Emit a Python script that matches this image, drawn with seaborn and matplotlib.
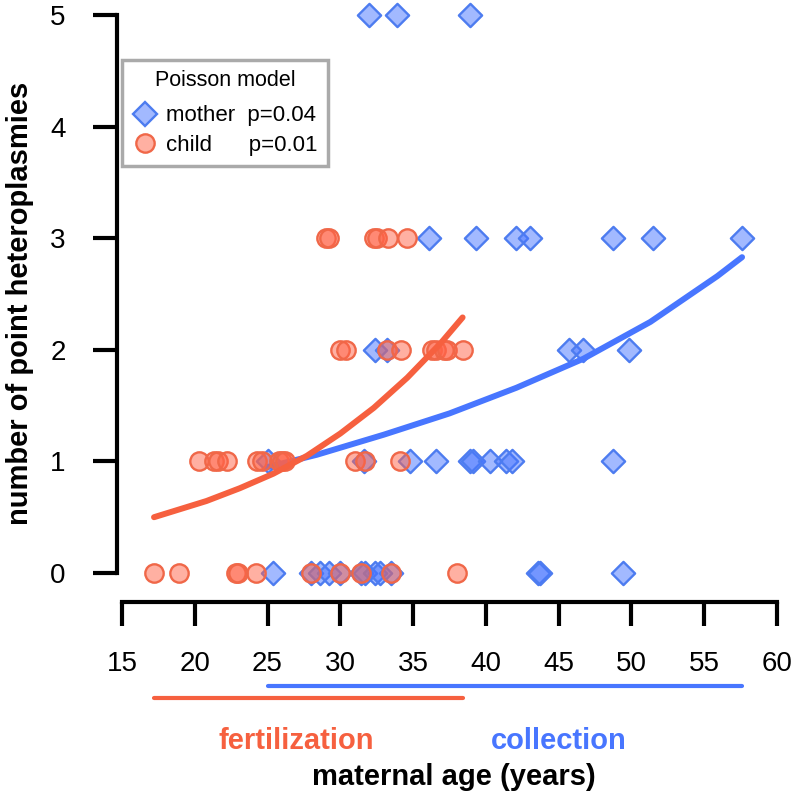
import numpy as np
import pandas as pd
import matplotlib
matplotlib.use("Agg")
import matplotlib.pyplot as plt
import seaborn as sns
from matplotlib.lines import Line2D

# ---------------- data ----------------
mother_age = [25.4, 28.0, 28.6, 29.2, 30.0, 31.4, 31.7, 32.4, 32.7, 33.5, 43.6, 43.7, 49.4,
              25.0, 31.6, 34.8, 36.6, 38.9, 39.1, 40.3, 41.4, 41.8, 48.7,
              32.4, 33.2, 45.7, 46.7, 49.8,
              36.1, 39.3, 42.1, 43.0, 48.7, 51.5, 57.6,
              32.0, 33.9, 38.9]
mother_count = [0] * 13 + [1] * 10 + [2] * 5 + [3] * 7 + [5] * 3

child_age = [17.2, 18.9, 22.8, 23.0, 24.2, 28.0, 30.0, 31.4, 33.5, 38.0,
             20.3, 21.3, 21.6, 22.2, 24.3, 24.6, 25.8, 26.0, 26.2, 31.0, 31.7, 34.1,
             30.0, 30.4, 33.2, 34.2, 36.3, 36.6, 37.1, 37.3, 38.4,
             29.0, 29.2, 32.3, 32.5, 33.3, 34.6]
child_count = [0] * 10 + [1] * 12 + [2] * 9 + [3] * 6

# Poisson-model fitted curves
mother_fit_age = [25.0, 28.4, 33.0, 37.5, 42.1, 46.7, 51.3, 55.9, 57.6]
mother_fit_count = [0.95, 1.06, 1.24, 1.43, 1.66, 1.92, 2.25, 2.66, 2.83]
child_fit_age = [17.2, 20.8, 23.1, 25.4, 27.7, 30.0, 32.3, 34.6, 36.9, 38.4]
child_fit_count = [0.50, 0.645, 0.76, 0.89, 1.05, 1.25, 1.48, 1.75, 2.06, 2.29]

x_ticks = [15, 20, 25, 30, 35, 40, 45, 50, 55, 60]
y_ticks = [0, 1, 2, 3, 4, 5]
legend_title = "Poisson model"
legend_labels = ["mother  p=0.04", "child      p=0.01"]
range_labels = ["fertilization", "collection"]
x_label = "maternal age (years)"
y_label = "number of point heteroplasmies"

# ---------------- style ----------------
sns.set_style("ticks")
plt.rcParams["font.family"] = ["Liberation Sans", "DejaVu Sans"]
for k in ["text.color", "axes.labelcolor", "xtick.color", "ytick.color", "axes.edgecolor"]:
    plt.rcParams[k] = "black"

RED = "#F6603F"
BLUE = "#4876FF"
RED_FACE = (1.0, 0.39, 0.28, 0.5)
BLUE_FACE = (0.28, 0.46, 1.0, 0.5)
RED_EDGE = "#F06748"
BLUE_EDGE = "#4D7CF0"

W = H = 796
fig = plt.figure(figsize=(W / 100, H / 100), dpi=100)
left, right, bottom, top = 117, 790, 602, 5
ax = fig.add_axes([left / W, 1 - bottom / H, (right - left) / W, (bottom - top) / H])

pxx = (777 - 122) / 45.0
pxy = (573 - 15) / 5.0
ax.set_xlim(15 - (122 - left) / pxx, 60 + (right - 777) / pxx)
ax.set_ylim(-(bottom - 573) / pxy, 5 + (15 - top) / pxy)

mother = pd.DataFrame({"age": mother_age, "count": mother_count})
child = pd.DataFrame({"age": child_age, "count": child_count})
mfit = pd.DataFrame({"age": mother_fit_age, "count": mother_fit_count})
cfit = pd.DataFrame({"age": child_fit_age, "count": child_fit_count})

sns.scatterplot(data=mother, x="age", y="count", marker="D", s=140,
                color=BLUE_FACE, edgecolor=BLUE_EDGE, linewidth=1.7,
                ax=ax, legend=False, clip_on=False, zorder=3)
sns.lineplot(data=mfit, x="age", y="count", color=BLUE, linewidth=4.3,
             estimator=None, ax=ax, zorder=4, solid_capstyle="round")
sns.scatterplot(data=child, x="age", y="count", marker="o", s=175,
                color=RED_FACE, edgecolor=RED_EDGE, linewidth=1.7,
                ax=ax, legend=False, clip_on=False, zorder=5)
sns.lineplot(data=cfit, x="age", y="count", color=RED, linewidth=4.3,
             estimator=None, ax=ax, zorder=6, solid_capstyle="round")

# spines R-like
for s in ["top", "right"]:
    ax.spines[s].set_visible(False)
ax.spines["left"].set_bounds(y_ticks[0], y_ticks[-1])
ax.spines["bottom"].set_bounds(x_ticks[0], x_ticks[-1])
for s in ["left", "bottom"]:
    ax.spines[s].set_linewidth(3)
    ax.spines[s].set_color("black")
    ax.spines[s].set_capstyle("projecting")
ax.set_xticks(x_ticks)
ax.set_yticks(y_ticks)
ax.tick_params(axis="both", direction="out", length=17, width=3, color="black",
               labelsize=20, labelcolor="black", bottom=True, left=True)
ax.tick_params(axis="x", pad=18)
ax.tick_params(axis="y", pad=20)
ax.grid(False)

# axis labels
ax.set_xlabel(x_label, fontsize=21, fontweight="bold")
ax.xaxis.label.set_va("center")
ax.xaxis.set_label_coords(0.5, -(777 - bottom) / (bottom - top))
ax.set_ylabel(y_label, fontsize=21, fontweight="bold")
ax.yaxis.label.set_va("center")
ax.yaxis.set_label_coords(-(left - 20) / (right - left), 0.5)

# ranges of ages under the axis
xt = ax.get_xaxis_transform()
ax.plot([min(mother_age), max(mother_age)], [-(686 - bottom) / (bottom - top)] * 2,
        color=BLUE, lw=3, transform=xt, clip_on=False, solid_capstyle="round")
ax.plot([min(child_age), max(child_age)], [-(698 - bottom) / (bottom - top)] * 2,
        color=RED, lw=3, transform=xt, clip_on=False, solid_capstyle="round")
ty = -(741 - bottom) / (bottom - top)
ax.text((296.7 - 122) / pxx + 15, ty, range_labels[0], color=RED, fontsize=21,
        fontweight="bold", ha="center", va="center", transform=xt)
ax.text((558.6 - 122) / pxx + 15, ty, range_labels[1], color=BLUE, fontsize=21,
        fontweight="bold", ha="center", va="center", transform=xt)

# legend
handles = [
    Line2D([], [], ls="", marker="D", ms=11.8, mfc=BLUE_FACE, mec=BLUE_EDGE, mew=1.7),
    Line2D([], [], ls="", marker="o", ms=13.2, mfc=RED_FACE, mec=RED_EDGE, mew=1.7),
]
leg = ax.legend(handles, legend_labels, title=legend_title, loc="upper left",
                bbox_to_anchor=(122 / W, 1 - 60 / H), bbox_transform=fig.transFigure,
                borderaxespad=0, fontsize=16, title_fontsize=15.5, frameon=True,
                fancybox=False, framealpha=1, edgecolor="#AAAAAA",
                borderpad=0.45, handlelength=1.2, handletextpad=0.35,
                labelspacing=0.39)
leg.get_frame().set_linewidth(2.5)
leg._legend_box.sep = 10.3

fig.savefig("out.png", dpi=100)
